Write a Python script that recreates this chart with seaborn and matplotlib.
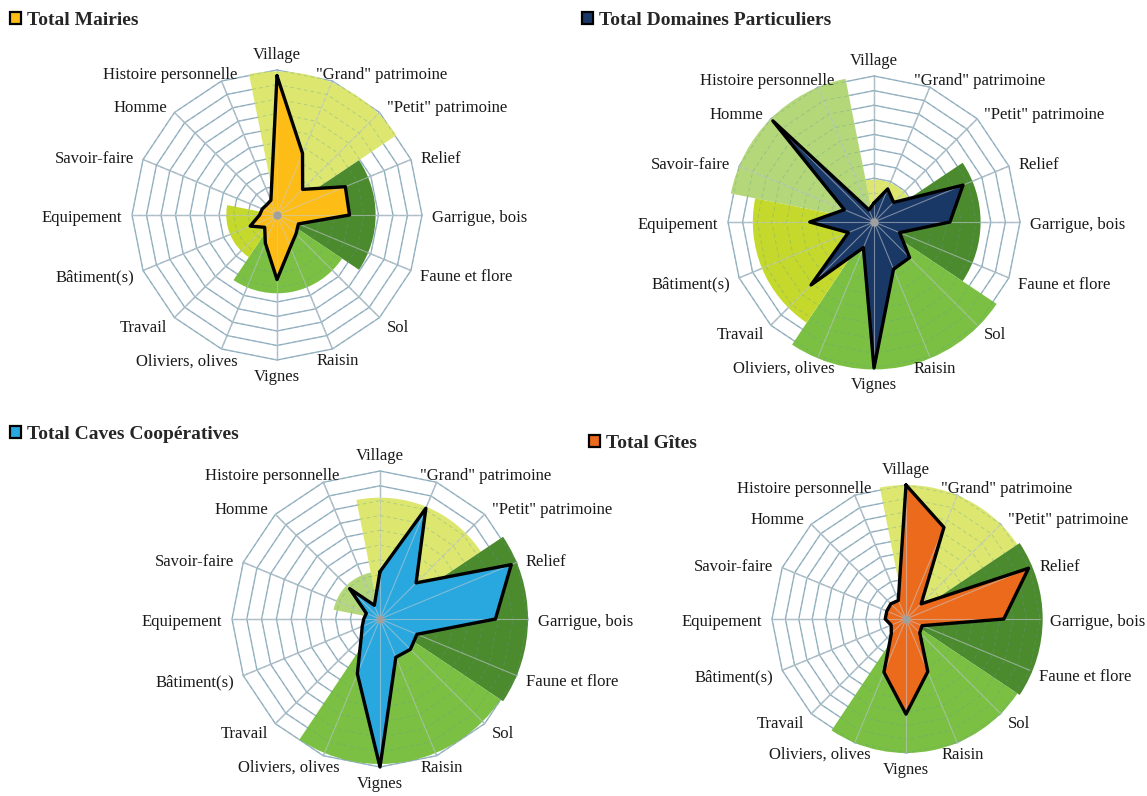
import numpy as np
import seaborn as sns
import matplotlib.pyplot as plt

# categories of the radar (clockwise from top)
categories = ['Village', '"Grand" patrimoine', '"Petit" patrimoine', 'Relief',
              'Garrigue, bois', 'Faune et flore', 'Sol', 'Raisin', 'Vignes',
              'Oliviers, olives', 'Travail', 'Bâtiment(s)', 'Equipement',
              'Savoir-faire', 'Homme', 'Histoire personnelle']

# values per type of actor (scale 0-10)
mairies = [9.6, 4.6, 2.5, 5.1, 5.0, 1.6, 1.85, 2.4, 4.45, 2.1, 1.2, 2.0, 1.2, 1.1, 1.0, 1.1]
domaines = [1.3, 2.45, 1.9, 6.6, 5.2, 1.9, 3.45, 3.5, 10.0, 1.9, 6.1, 1.9, 4.4, 2.2, 9.8, 0.9]
caves = [3.2, 8.1, 3.45, 9.6, 7.8, 2.7, 2.9, 2.8, 10.0, 4.0, 1.8, 1.3, 1.1, 1.0, 2.9, 1.0]
gites = [10.0, 7.4, 1.6, 9.9, 7.3, 1.3, 1.45, 4.25, 7.1, 4.3, 1.55, 1.2, 1.55, 1.55, 1.6, 1.5]

# background groups of categories (number of categories in each group)
group_sizes = [3, 3, 4, 3, 3]
group_colors = ['#dde770', '#4c8a2e', '#7bc043', '#c5d92d', '#b4d779']
mairies_groups = [9.9, 6.8, 5.4, 3.5, 0]
domaines_groups = [2.9, 7.3, 10.1, 8.3, 10.0]
caves_groups = [8.2, 10.0, 9.8, 0, 3.2]
gites_groups = [10.0, 10.2, 10.0, 0, 0]

titles = ['Total Mairies', 'Total Domaines Particuliers', 'Total Caves Coopératives', 'Total Gîtes']
colors = ['#fdbd16', '#1a3866', '#29a8df', '#ec6a1c']

sns.set_theme(style='white')
plt.rcParams['font.family'] = ['Liberation Serif', 'DejaVu Serif']

W, H = 1147, 796
fig = plt.figure(figsize=(W / 100, H / 100), dpi=100)

n = len(categories)
step = 2 * np.pi / n
theta = np.arange(n) * step
theta_c = np.append(theta, 2 * np.pi)
grid_col = '#9fb6c9'
RMAX = 10.6


def radar(cx, cy, rad, values, groups, color, title, tx, ty):
    r_px = rad * RMAX / 10
    ax = fig.add_axes([(cx - r_px) / W, (H - cy - r_px) / H, 2 * r_px / W, 2 * r_px / H],
                      projection='polar')
    ax.set_theta_zero_location('N')
    ax.set_theta_direction(-1)
    ax.set_ylim(0, RMAX)
    ax.grid(False)
    ax.set_xticks([])
    ax.set_yticks([])
    ax.spines['polar'].set_visible(False)

    # polygon grid + spokes
    for k in range(1, 11):
        ax.plot(theta_c, [k] * (n + 1), color=grid_col, lw=1, zorder=1)
    for t in theta:
        ax.plot([t, t], [0, 10], color=grid_col, lw=1, zorder=1)

    # coloured sectors for the groups
    start = 0
    for size, val, gc in zip(group_sizes, groups, group_colors):
        if val > 0:
            ax.bar(step * (start + size / 2 - 0.5), val, width=size * step,
                   color=gc, edgecolor='none', zorder=2)
        start += size

    # faint dashed grid over the sectors
    for k in range(1, 11):
        ax.plot(theta_c, [k] * (n + 1), color='#5f9f95', lw=0.7, ls=(0, (4, 3)),
                alpha=0.35, zorder=3)
    for t in theta:
        ax.plot([t, t], [0, 10], color='#5f9f95', lw=0.7, ls=(0, (4, 3)), alpha=0.35, zorder=3)

    # data polygon
    v = np.append(values, values[0])
    ax.fill(theta_c, v, color=color, zorder=4)
    for t in theta:
        ax.plot([t, t], [0, 10], color='#c8ccd0', lw=0.8, alpha=0.55, zorder=5)
    sns.lineplot(x=theta_c, y=v, ax=ax, sort=False, color='black', lw=2.4, zorder=6,
                 legend=False)
    ax.plot([0], [0], marker='o', ms=5, color='#a0a0a0', zorder=7)
    ax.set_xlabel('')
    ax.set_ylabel('')

    # category labels
    for t, lab in zip(theta, categories):
        s, c = np.sin(t), np.cos(t)
        dx, dy = 10 * s, 10 * c - 3
        va = 'center'
        if abs(s) < 0.01:
            ha = 'center'
            if c > 0:
                va = 'bottom'
            else:
                va = 'top'
                dy = -9
        elif s > 0:
            ha = 'left'
            if s < 0.5:
                dx -= 20
        else:
            ha = 'right'
            if s > -0.5:
                dx += 20
        ax.annotate(lab, xy=(t, 10), xytext=(dx, dy), textcoords='offset pixels',
                    ha=ha, va=va, fontsize=12, color='#1a1a1a', annotation_clip=False)

    # legend-like title
    fig.legend(handles=[plt.Rectangle((0, 0), 1, 1, facecolor=color, edgecolor='black', lw=1.6)],
               labels=[title], loc='upper left', bbox_to_anchor=(tx / W, 1 - ty / H),
               frameon=False, handlelength=0.55, handleheight=0.55, handletextpad=0.3,
               borderpad=0, borderaxespad=0,
               prop={'family': 'Liberation Serif', 'weight': 'bold', 'size': 14})


radar(277, 215, 145, mairies, mairies_groups, colors[0], titles[0], 10, 12)
radar(874, 222, 146, domaines, domaines_groups, colors[1], titles[1], 582, 12)
radar(380, 619, 148, caves, caves_groups, colors[2], titles[2], 10, 426)
radar(906, 619, 134, gites, gites_groups, colors[3], titles[3], 589, 435)

plt.savefig('out.png', dpi=100)
